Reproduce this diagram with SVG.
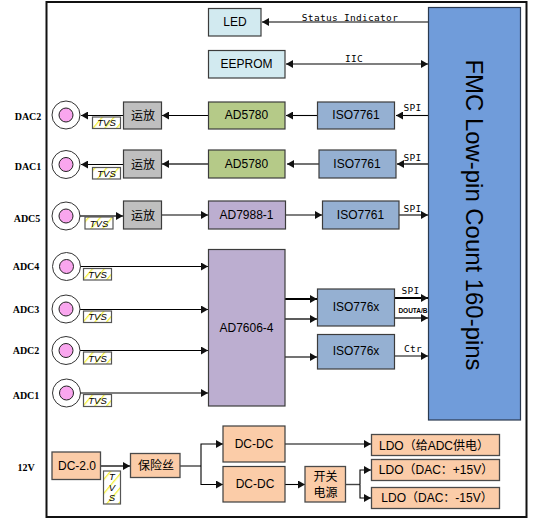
<svg xmlns="http://www.w3.org/2000/svg" width="546" height="521" viewBox="0 0 546 521">
<style>
text{font-family:"Liberation Sans","Noto Sans CJK SC",sans-serif;fill:#000;text-anchor:middle}
.n{font-size:12px}
.s{stroke:#3c3c3c;stroke-width:1.2}
.b{stroke:#4a4a4a;stroke-width:1.3}
.led{fill:#d2eaf0}.ad{fill:#b5ca88}.iso{fill:#95b0d2}.pur{fill:#bcaed0}.gry{fill:#bfbfbf}.org{fill:#fbcca8}
.c{fill:none;stroke:#000;stroke-width:1.1;marker-end:url(#a)}
.c2{fill:none;stroke:#333;stroke-width:1.6;marker-end:url(#a)}
.ln{fill:none;stroke:#444;stroke-width:1.4}
.lab{font-family:"DejaVu Sans Mono","Liberation Mono",monospace;font-size:9.5px;letter-spacing:.3px}
.port{font-family:"Liberation Serif",serif;font-size:10px;font-weight:bold}
.t{fill:url(#h);stroke:#555;stroke-width:1.2}
.tt{font-size:9.5px;font-style:italic}
.o{fill:#fff;stroke:#333;stroke-width:1}
.i{fill:#f9a6ee;stroke:#222;stroke-width:1}
</style>
<defs>
<marker id="a" markerUnits="userSpaceOnUse" markerWidth="8" markerHeight="8" refX="7" refY="4" orient="auto"><path d="M0 0L7 4L0 8Z" fill="#111"/></marker>
<marker id="as" markerUnits="userSpaceOnUse" markerWidth="8" markerHeight="8" refX="7" refY="4" orient="auto-start-reverse"><path d="M0 0L7 4L0 8Z" fill="#111"/></marker>
<pattern id="h" patternUnits="userSpaceOnUse" width="9" height="9" patternTransform="rotate(40)"><rect width="9" height="9" fill="#fff"/><rect width="1.3" height="9" fill="#f3ef3a"/></pattern>
</defs>
<rect id="frame" x="46.500" y="2" width="480" height="515" fill="#fff" stroke="#111" stroke-width="2"/>
<g id="connectors">
<path class="c" d="M428 22H262"/>
<path d="M286 64H428" fill="none" stroke="#000" stroke-width="1.1" marker-start="url(#as)" marker-end="url(#as)"/>
<path class="c" d="M428 115.500H396"/>
<path class="c" d="M317 115.500H286"/>
<path class="c" d="M208 115.500H162"/>
<path class="c" d="M123 115.500H81"/>
<path class="c2" d="M428 164H397"/>
<path class="c" d="M319 164H287"/>
<path class="c2" d="M208 164H162"/>
<path class="c" d="M123 164.500H81"/>
<path class="c2" d="M80 216H123"/>
<path class="c" d="M162 215H208"/>
<path class="c" d="M286 215H322"/>
<path class="c" d="M399 215H428"/>
<path class="c" d="M80 266.500H208"/>
<path class="c" d="M80 309.500H208"/>
<path class="c" d="M80 350.500H208"/>
<path class="c" d="M80 393H208"/>
<path d="M285 299H317" fill="none" stroke="#000" stroke-width="2" marker-end="url(#a)"/>
<path class="c2" d="M285 319H317"/>
<path class="c" d="M285 357H317"/>
<path d="M395 298H428" fill="none" stroke="#000" stroke-width="2" marker-end="url(#a)"/>
<path class="c2" d="M395 318H428"/>
<path class="c" d="M395 356H428"/>
<path class="c2" d="M100 466H130"/>
<path class="ln" d="M180 466H201"/>
<path class="c" d="M201 466V444H223"/>
<path class="c" d="M201 466V484.500H223"/>
<path class="c" d="M285 444H371"/>
<path class="c" d="M285 484.500H305"/>
<path class="ln" d="M346 484.500H360"/>
<path class="c" d="M360 484.500V470H371"/>
<path class="c" d="M360 484.500V498H371"/>
</g>
<g id="fmc"><rect x="428.500" y="7.500" width="92" height="412.500" fill="#709cda" stroke="#2a3a50" stroke-width="1.2"/><text transform="translate(466 215) rotate(90)" font-size="24" textLength="311" lengthAdjust="spacingAndGlyphs">FMC Low-pin Count 160-pins</text></g>
<g id="led"><rect class="led s" x="208.500" y="8.500" width="52.500" height="27.500"/><text class="n" x="235" y="26">LED</text></g>
<g id="eeprom"><rect class="led s" x="208.500" y="50.500" width="76.500" height="27.500"/><text class="n" x="246.500" y="68">EEPROM</text></g>
<g id="ad5780-1"><rect class="ad s" x="208.500" y="102" width="76.500" height="27"/><text class="n" x="246.500" y="119">AD5780</text></g>
<g id="ad5780-2"><rect class="ad s" x="208.500" y="150" width="76.500" height="28"/><text class="n" x="246.500" y="168">AD5780</text></g>
<g id="ad7988"><rect class="pur s" x="208.500" y="201" width="77" height="28"/><text class="n" x="246.500" y="219">AD7988-1</text></g>
<g id="ad7606"><rect class="pur s" x="208.500" y="249.500" width="76.500" height="156.500"/><text class="n" x="246.500" y="332">AD7606-4</text></g>
<g id="iso-1"><rect class="iso s" x="317.500" y="102" width="77" height="27"/><text class="n" x="356" y="119">ISO7761</text></g>
<g id="iso-2"><rect class="iso s" x="319" y="150" width="77" height="28"/><text class="n" x="357" y="168">ISO7761</text></g>
<g id="iso-3"><rect class="iso s" x="322.500" y="201" width="76.500" height="28"/><text class="n" x="360.500" y="219">ISO7761</text></g>
<g id="iso-4"><rect class="iso s" x="317.500" y="289" width="77" height="37"/><text class="n" x="356" y="311">ISO776x</text></g>
<g id="iso-5"><rect class="iso s" x="317.500" y="334.500" width="77" height="34.500"/><text class="n" x="356" y="355">ISO776x</text></g>
<g id="op-1"><rect class="gry s" x="123.500" y="102" width="38" height="27"/><text class="n" x="143" y="119.500">运放</text></g>
<g id="op-2"><rect class="gry s" x="123.500" y="150" width="38" height="28"/><text class="n" x="143" y="168.500">运放</text></g>
<g id="op-3"><rect class="gry s" x="123.500" y="201" width="38" height="28"/><text class="n" x="143" y="219.500">运放</text></g>
<g id="dac2"><circle class="o" cx="66" cy="115" r="14"/><circle class="i" cx="66" cy="115" r="7"/><text class="port" x="28" y="120">DAC2</text><rect class="t" x="92.500" y="117" width="28" height="11.500"/><text class="tt" x="106.500" y="126">TVS</text></g>
<g id="dac1"><circle class="o" cx="66" cy="164.500" r="14"/><circle class="i" cx="66" cy="164.500" r="7"/><text class="port" x="28" y="170">DAC1</text><rect class="t" x="92.500" y="167.500" width="28" height="11.500"/><text class="tt" x="106.500" y="176.500">TVS</text></g>
<g id="adc5"><circle class="o" cx="66" cy="216" r="14"/><circle class="i" cx="66" cy="216" r="7"/><text class="port" x="27" y="222">ADC5</text><rect class="t" x="85" y="217" width="28" height="12"/><text class="tt" x="99" y="226.500">TVS</text></g>
<g id="adc4"><circle class="o" cx="66.500" cy="266.500" r="14"/><circle class="i" cx="66.500" cy="266.500" r="7"/><text class="port" x="26" y="270">ADC4</text><rect class="t" x="83.500" y="268.500" width="28" height="11.500"/><text class="tt" x="97.500" y="277.500">TVS</text></g>
<g id="adc3"><circle class="o" cx="66" cy="309" r="14"/><circle class="i" cx="66" cy="309" r="7"/><text class="port" x="26" y="313">ADC3</text><rect class="t" x="83.500" y="311" width="28" height="11.500"/><text class="tt" x="97.500" y="320">TVS</text></g>
<g id="adc2"><circle class="o" cx="66" cy="350.500" r="14"/><circle class="i" cx="66" cy="350.500" r="7"/><text class="port" x="26" y="354">ADC2</text><rect class="t" x="83.500" y="352" width="28" height="12"/><text class="tt" x="97.500" y="361.500">TVS</text></g>
<g id="adc1"><circle class="o" cx="66.500" cy="393" r="14"/><circle class="i" cx="66.500" cy="393" r="7"/><text class="port" x="26" y="399">ADC1</text><rect class="t" x="83.500" y="394.500" width="28" height="12"/><text class="tt" x="97.500" y="404">TVS</text></g>
<g id="v12"><text class="port" x="26" y="471">12V</text></g>
<g id="dc20"><rect class="org b" x="52" y="452" width="48.500" height="27.500"/><text class="n" x="77" y="470">DC-2.0</text></g>
<g id="tvs-v"><rect class="t" x="103.500" y="471" width="17" height="33"/><text class="tt" x="112" y="480">T</text><text class="tt" x="112" y="491">V</text><text class="tt" x="112" y="501">S</text></g>
<g id="fuse"><rect class="org b" x="130.500" y="453.500" width="49.500" height="24"/><text class="n" x="156" y="470">保险丝</text></g>
<g id="dcdc-1"><rect class="org s" x="223" y="426" width="62" height="36"/><text class="n" x="254" y="448">DC-DC</text></g>
<g id="dcdc-2"><rect class="org s" x="223" y="466.500" width="62" height="35.500"/><text class="n" x="255" y="488">DC-DC</text></g>
<g id="switch"><rect class="org b" x="305" y="466.500" width="40.500" height="35.500"/><text class="n" x="325.500" y="481">开关</text><text class="n" x="325.500" y="497">电源</text></g>
<g id="ldo-1"><rect class="org b" x="371.500" y="434.500" width="128" height="21"/><text class="n" x="434" y="449.500">LDO（给ADC供电）</text></g>
<g id="ldo-2"><rect class="org b" x="371.500" y="459.500" width="128" height="21"/><text class="n" x="436" y="474">LDO（DAC：+15V）</text></g>
<g id="ldo-3"><rect class="org b" x="371.500" y="487.500" width="128" height="21"/><text class="n" x="437" y="502">LDO（DAC：-15V）</text></g>
<g id="labels">
<text class="lab" x="350" y="21">Status Indicator</text>
<text class="lab" x="354" y="61.500">IIC</text>
<text class="lab" x="412.500" y="111">SPI</text>
<text class="lab" x="412.500" y="161">SPI</text>
<text class="lab" x="412.500" y="212">SPI</text>
<text class="lab" x="410.500" y="294">SPI</text>
<text x="413" y="313" font-size="6.500" font-weight="bold">DOUTA/B</text>
<text class="lab" x="413" y="352">Ctr</text>
</g>
</svg>
